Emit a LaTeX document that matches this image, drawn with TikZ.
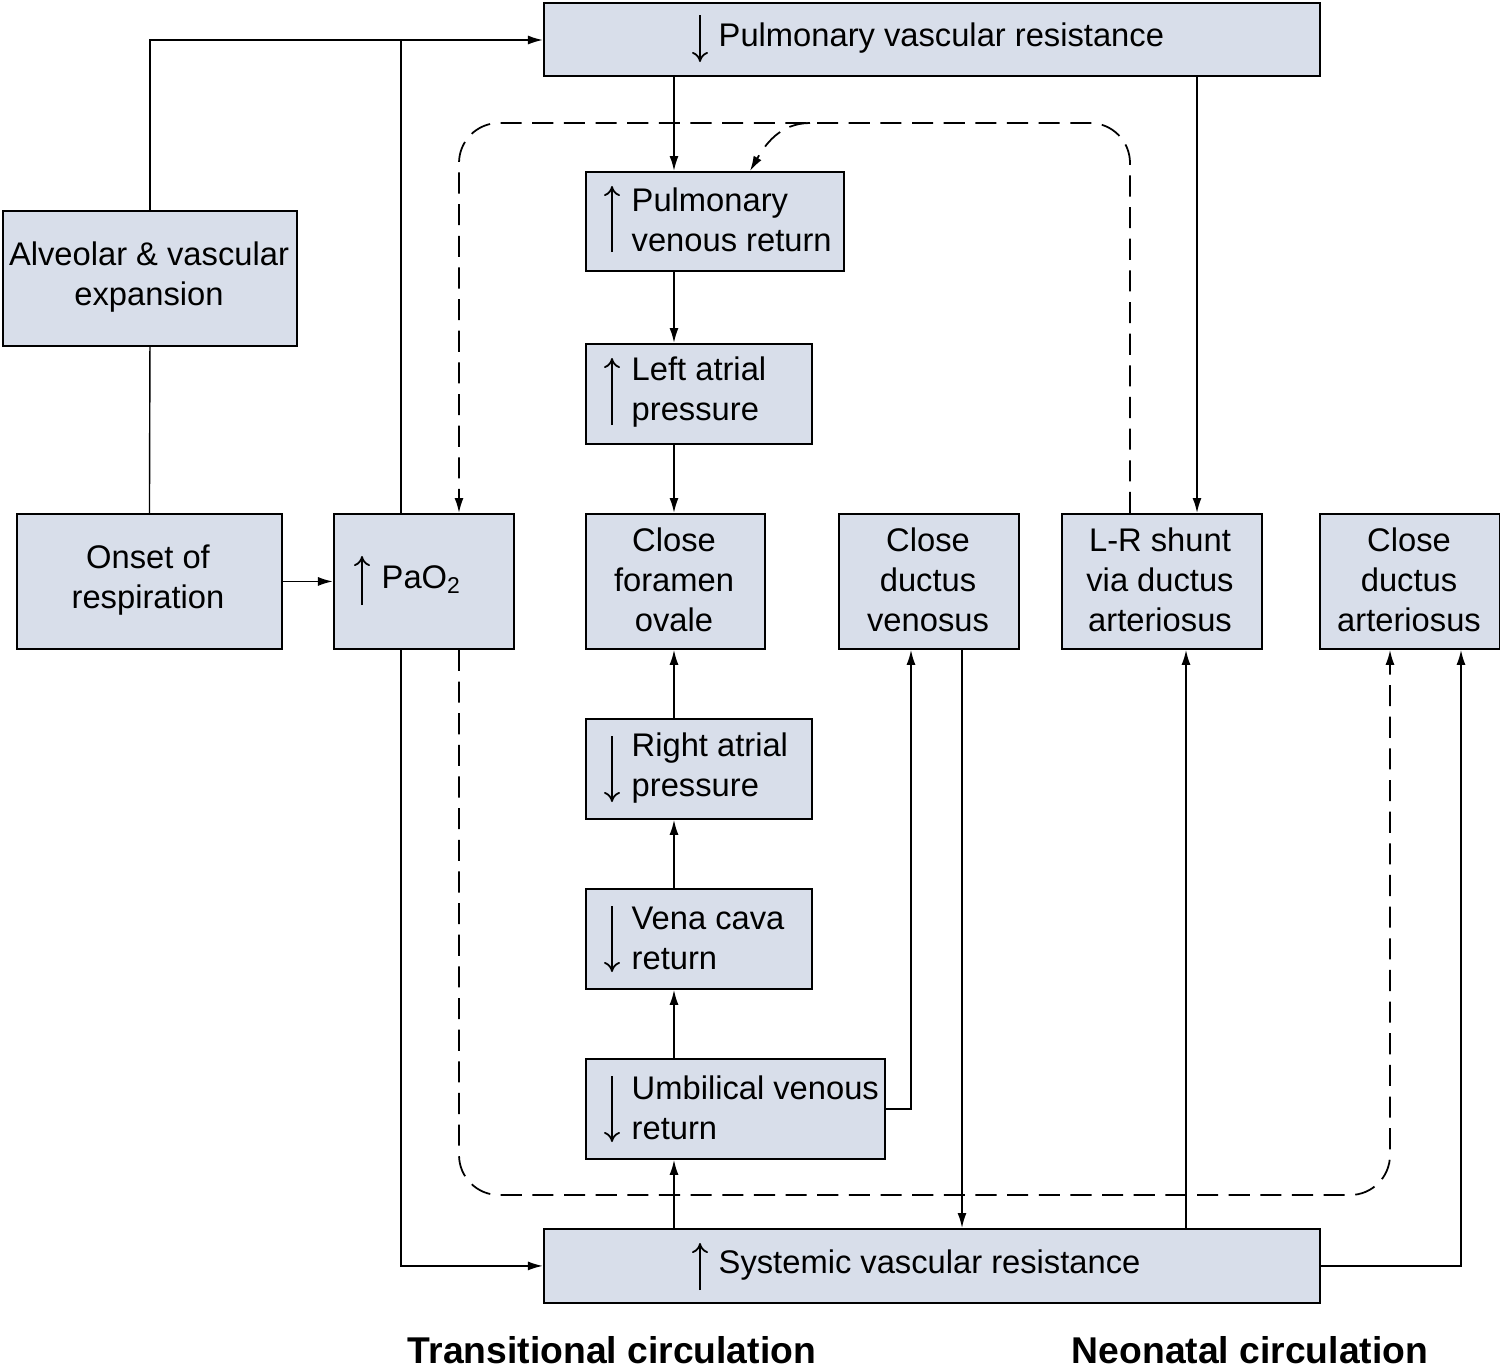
\documentclass[tikz,border=0pt]{standalone}
\usepackage{fontspec}
\setmainfont{Liberation Sans}
\usetikzlibrary{arrows.meta}
\definecolor{boxfill}{HTML}{D8DEEA}
\begin{document}
\begin{tikzpicture}[x=0.01cm,y=-0.01cm,
    box/.style={draw, fill=boxfill, line width=0.5pt, inner sep=0pt, anchor=north west},
    txt/.style={font=\fontsize{9.3}{11.4}\selectfont, align=center, inner sep=0pt},
    ltxt/.style={txt, align=left, anchor=west},
    arr/.style={-{Latex[length=0.15cm,width=0.09cm]}, line width=0.5pt},
    sym/.style={-{To[length=0.1cm,width=0.16cm]}, line width=0.5pt},
    dsh/.style={arr, dashed, dash pattern=on 6pt off 3pt, rounded corners=0.4cm}]
  \useasboundingbox (0,0) rectangle (1500,1366);
  % boxes
  \node[box, minimum width=7.76cm, minimum height=0.73cm] (pvr) at (543,2) {};
  \node[box, minimum width=2.58cm, minimum height=0.99cm] (pvret) at (585,171) {};
  \node[box, minimum width=2.26cm, minimum height=1.00cm] (lap) at (585,343) {};
  \node[box, minimum width=2.94cm, minimum height=1.35cm] (alv) at (2,210) {};
  \node[box, minimum width=2.65cm, minimum height=1.35cm] (ons) at (16,513) {};
  \node[box, minimum width=1.80cm, minimum height=1.35cm] (pao) at (333,513) {};
  \node[box, minimum width=1.79cm, minimum height=1.35cm] (cfo) at (585,513) {};
  \node[box, minimum width=1.80cm, minimum height=1.35cm] (cdv) at (838,513) {};
  \node[box, minimum width=2.00cm, minimum height=1.35cm] (lrs) at (1061,513) {};
  \node[box, minimum width=1.80cm, minimum height=1.35cm] (cda) at (1319,513) {};
  \node[box, minimum width=2.26cm, minimum height=1.00cm] (rap) at (585,718) {};
  \node[box, minimum width=2.26cm, minimum height=1.00cm] (vcr) at (585,888) {};
  \node[box, minimum width=2.99cm, minimum height=1.00cm] (uvr) at (585,1058) {};
  \node[box, minimum width=7.76cm, minimum height=0.74cm] (svr) at (543,1228) {};
  % texts
  \node[ltxt] (tpvr) at (718,38) {Pulmonary vascular resistance};
  \draw[sym] (700,15) -- (700,62);
  \node[ltxt] (tpvret) at (631,220) {Pulmonary\\venous return};
  \draw[sym] (612,252) -- (612,186);
  \node[ltxt] (tlap) at (631,392) {Left atrial\\pressure};
  \draw[sym] (612,425) -- (612,358);
  \node[txt] (talv) at (149,277) {Alveolar \& vascular\\expansion};
  \node[txt] (tons) at (148,580) {Onset of\\respiration};
  \node[ltxt] (tpao) at (381,580) {PaO\textsubscript{2}};
  \draw[sym] (362,605) -- (362,556);
  \node[txt] (tcfo) at (674,580) {Close\\foramen\\ovale};
  \node[txt] (tcdv) at (928,580) {Close\\ductus\\venosus};
  \node[txt] (tlrs) at (1160,580) {L-R shunt\\via ductus\\arteriosus};
  \node[txt] (tcda) at (1409,580) {Close\\ductus\\arteriosus};
  \node[ltxt] (trap) at (631,768) {Right atrial\\pressure};
  \draw[sym] (612,736) -- (612,802);
  \node[ltxt] (tvcr) at (631,938) {Vena cava\\return};
  \draw[sym] (612,906) -- (612,972);
  \node[ltxt] (tuvr) at (631,1108) {Umbilical venous\\return};
  \draw[sym] (612,1076) -- (612,1142);
  \node[ltxt] (tsvr) at (718,1265) {Systemic vascular resistance};
  \draw[sym] (700,1290) -- (700,1243);
  \node[font=\bfseries\fontsize{10.6}{12}\selectfont, inner sep=0pt] (lt) at (612,1350) {Transitional circulation};
  \node[font=\bfseries\fontsize{10.6}{12}\selectfont, inner sep=0pt] (ln) at (1250,1350) {Neonatal circulation};
  % connectors
  \coordinate (j1) at (401,40);
  \draw[arr] (alv.north) |- (pvr.west |- j1);
  \draw (alv.south) -- (ons.north);
  \draw[arr] (ons.east) -- (pao.west);
  \draw (pao.north -| j1) -- (j1);
  \draw[arr] (pao.south -| j1) |- (svr.west);
  \draw[arr] (pvr.south -| 674,0) -- (pvret.north -| 674,0);
  \draw[arr] (pvret.south -| 674,0) -- (lap.north -| 674,0);
  \draw[arr] (lap.south -| 674,0) -- (cfo.north -| 674,0);
  \draw[arr] (rap.north -| 674,0) -- (cfo.south -| 674,0);
  \draw[arr] (vcr.north -| 674,0) -- (rap.south -| 674,0);
  \draw[arr] (uvr.north -| 674,0) -- (vcr.south -| 674,0);
  \draw[arr] (svr.north -| 674,0) -- (uvr.south -| 674,0);
  \draw[arr] (uvr.east) -| (cdv.south -| 911,0);
  \draw[arr] (cdv.south -| 962,0) -- (svr.north -| 962,0);
  \draw[arr] (pvr.south -| 1197,0) -- (lrs.north -| 1197,0);
  \draw[arr] (svr.north -| 1186,0) -- (lrs.south -| 1186,0);
  \draw[arr] (svr.east) -| (cda.south -| 1461,0);
  % dashed paths
  \coordinate (d1) at (810,123);
  \draw[dsh] (lrs.north -| 1130,0) |- (459,123) -- (pao.north -| 459,0);
  \draw[arr, dashed, dash pattern=on 6pt off 3pt] (d1) to[out=180,in=60] (pvret.north -| 750,0);
  \draw[dsh] (pao.south -| 459,0) |- (1390,1195) -- (cda.south -| 1390,0);
\end{tikzpicture}
\end{document}
